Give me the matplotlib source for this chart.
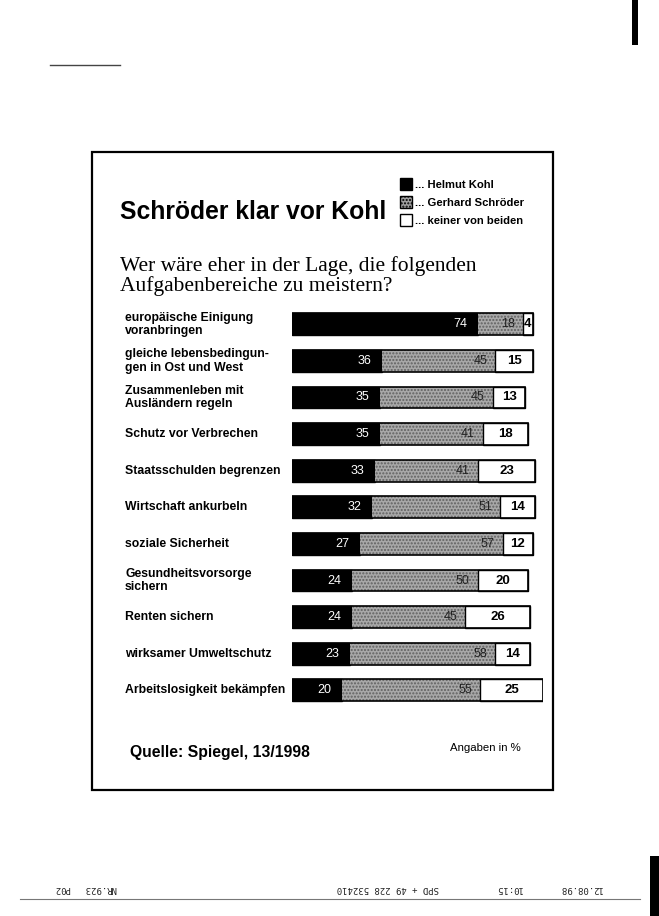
import numpy as np
import matplotlib.pyplot as plt
from matplotlib.patches import Rectangle

# Data (values in %)
themen = ['europäische Einigung\nvoranbringen',
          'gleiche lebensbedingun-\ngen in Ost und West',
          'Zusammenleben mit\nAusländern regeln',
          'Schutz vor Verbrechen',
          'Staatsschulden begrenzen',
          'Wirtschaft ankurbeln',
          'soziale Sicherheit',
          'Gesundheitsvorsorge\nsichern',
          'Renten sichern',
          'wirksamer Umweltschutz',
          'Arbeitslosigkeit bekämpfen']
kohl = [74, 36, 35, 35, 33, 32, 27, 24, 24, 23, 20]
schroeder = [18, 45, 45, 41, 41, 51, 57, 50, 45, 58, 55]
keiner = [4, 15, 13, 18, 23, 14, 12, 20, 26, 14, 25]

W, H = 659, 916
fig = plt.figure(figsize=(W / 100, H / 100), dpi=100)
fig.patch.set_facecolor('white')

narrow = ['DejaVu Sans Condensed', 'Liberation Sans', 'DejaVu Sans']


def px(x, y):
    # pixel position (from top left) -> figure fraction
    return x / W, 1 - y / H


# frame around the graphic
fig.patches.append(Rectangle(px(92, 790), 461 / W, 638 / H, transform=fig.transFigure,
                             fill=False, edgecolor='black', linewidth=1.6))

# title and question
fig.text(*px(120, 212), 'Schröder klar vor Kohl', fontsize=17.8, fontweight='bold',
         family=['Liberation Sans', 'DejaVu Sans'], va='center', ha='left')
fig.text(*px(120, 256), 'Wer wäre eher in der Lage, die folgenden\nAufgabenbereiche zu meistern?',
         fontsize=15.5, family=['Liberation Serif', 'DejaVu Serif'], va='top', ha='left',
         linespacing=1.0)

# legend
leg = [('black', None, '... Helmut Kohl'),
       ('#a0a0a0', '.....', '... Gerhard Schröder'),
       ('white', None, '... keiner von beiden')]
for i, (fc, hatch, txt) in enumerate(leg):
    yy = 184 + i * 18
    fig.patches.append(Rectangle(px(400, yy + 6), 12 / W, 12 / H, transform=fig.transFigure,
                                 facecolor=fc, hatch=hatch, edgecolor='black', linewidth=1))
    fig.text(*px(415, yy + 1), txt, fontsize=8.1, fontweight='bold', family=narrow,
             va='center', ha='left')

# bar axes: 0..100 % maps to x 292..543 px
ax = fig.add_axes([292 / W, 1 - 708.6 / H, 251 / W, 402.6 / H])
ax.set_xlim(0, 100)
ax.set_ylim(10.5, -0.5)
ax.axis('off')

y = np.arange(len(themen))
k = np.array(kohl)
s = np.array(schroeder)
n = np.array(keiner)
h = 0.6

ax.barh(y, k, height=h, color='black', edgecolor='black', linewidth=1)
ax.barh(y, s, left=k, height=h, color='#a8a8a8', hatch='.....', edgecolor='#606060', linewidth=0)
ax.barh(y, n, left=k + s, height=h, color='white', edgecolor='black', linewidth=1)
ax.barh(y, k + s + n, height=h, fill=False, edgecolor='black', linewidth=1.2)

for i in range(len(themen)):
    ax.text(k[i] - 7, y[i], str(k[i]), color='white', fontsize=9, family=narrow,
            ha='center', va='center')
    ax.text(k[i] + s[i] - 6, y[i], str(s[i]), color='#222222', fontsize=9, family=narrow,
            ha='center', va='center')
    ax.text(k[i] + s[i] + n[i] / 2, y[i], str(n[i]), color='black', fontsize=9.5,
            fontweight='bold', family=narrow, ha='center', va='center')
    ax.text(-0.665, y[i], themen[i], transform=ax.get_yaxis_transform(), fontsize=8.8,
            fontweight='bold', family=narrow, ha='left', va='center', linespacing=1.15)

# footer
fig.text(*px(130, 752), 'Quelle: Spiegel, 13/1998', fontsize=11.3, fontweight='bold',
         family=narrow, va='center', ha='left')
fig.text(*px(450, 748), 'Angaben in %', fontsize=8.2, family=narrow, va='center', ha='left')

# leftovers from the fax scan
fig.add_artist(plt.Line2D([50 / W, 120 / W], [1 - 65 / H, 1 - 65 / H], color='#444444', linewidth=1))
fax = [(62, 'P02'), (100, 'NR.923'), (388, 'SPD + 49 228 532410'), (508, '10:15'), (580, '12.08.98')]
for xx, txt in fax:
    fig.text(*px(xx, 889), txt, fontsize=6.5, family='DejaVu Sans Mono', rotation=180,
             ha='center', va='center', color='#222222')
fig.add_artist(plt.Line2D([20 / W, 640 / W], [1 - 899 / H, 1 - 899 / H], color='#777777', linewidth=0.8))
fig.patches.append(Rectangle(px(632, 45), 6 / W, 45 / H, transform=fig.transFigure,
                             facecolor='black', edgecolor='none'))
fig.patches.append(Rectangle(px(650, 916), 9 / W, 60 / H, transform=fig.transFigure,
                             facecolor='black', edgecolor='none'))

fig.savefig('out.png', dpi=100, facecolor='white')
